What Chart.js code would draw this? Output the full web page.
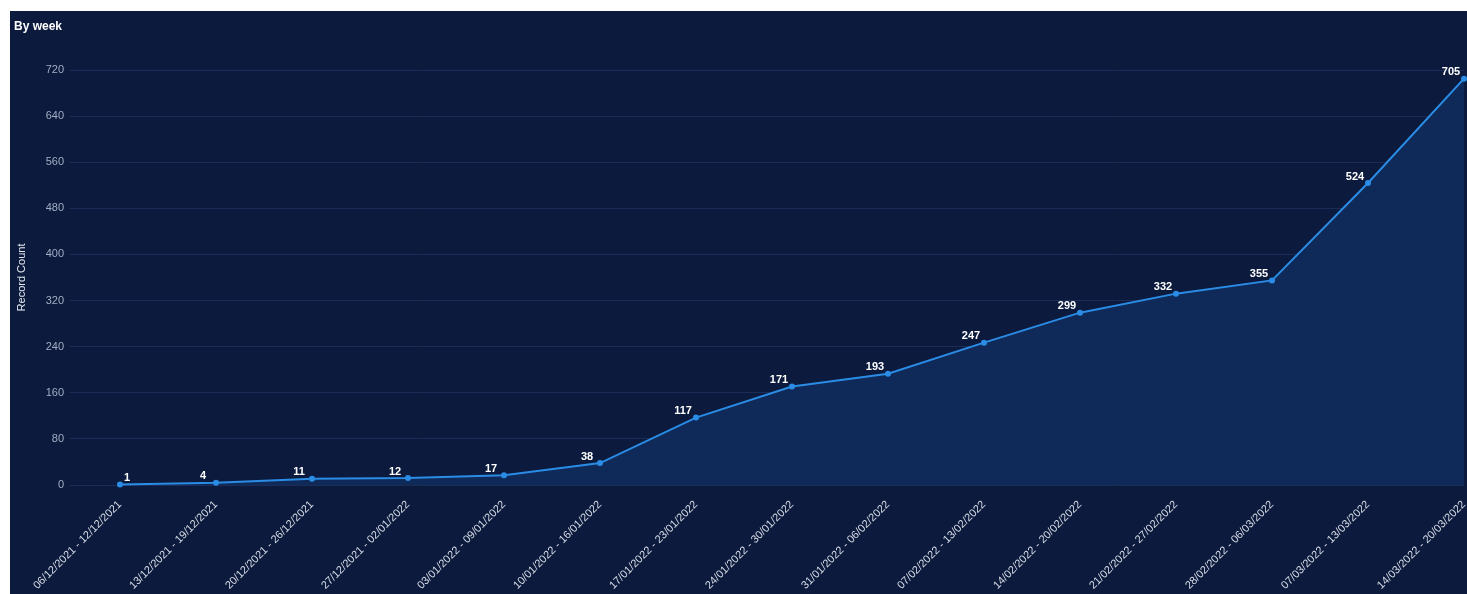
<!DOCTYPE html>
<html>
<head>
<meta charset="utf-8">
<script src="https://cdn.jsdelivr.net/npm/chart.js@4/dist/chart.umd.min.js"></script>
<style>
  html, body { margin: 0; padding: 0; background: #ffffff; overflow: hidden; }
  #panel { position: absolute; left: 10px; top: 11px; width: 1457px; height: 583px; background: #0b1a3d; }
  canvas { display: block; }
</style>
</head>
<body>
<div id="panel"><canvas id="c" width="1457" height="583"></canvas></div>
<script>
const chartTitle = 'By week';
const yAxisTitle = 'Record Count';
const weeks = [
  '06/12/2021 - 12/12/2021', '13/12/2021 - 19/12/2021', '20/12/2021 - 26/12/2021',
  '27/12/2021 - 02/01/2022', '03/01/2022 - 09/01/2022', '10/01/2022 - 16/01/2022',
  '17/01/2022 - 23/01/2022', '24/01/2022 - 30/01/2022', '31/01/2022 - 06/02/2022',
  '07/02/2022 - 13/02/2022', '14/02/2022 - 20/02/2022', '21/02/2022 - 27/02/2022',
  '28/02/2022 - 06/03/2022', '07/03/2022 - 13/03/2022', '14/03/2022 - 20/03/2022'
];
const recordCounts = [1, 4, 11, 12, 17, 38, 117, 171, 193, 247, 299, 332, 355, 524, 705];
const yTicks = [0, 80, 160, 240, 320, 400, 480, 560, 640, 720];

const FONT = '"Liberation Sans", Arial, sans-serif';

const overlay = {
  id: 'overlay',
  afterDatasetsDraw(chart) {
    const ctx = chart.ctx;
    ctx.save();
    ctx.fillStyle = '#ffffff';
    ctx.font = 'bold 11px ' + FONT;
    ctx.textAlign = 'center';
    ctx.textBaseline = 'bottom';
    const meta = chart.getDatasetMeta(0);
    meta.data.forEach((pt, i) => {
      const dx = i === 0 ? 7 : -13;
      ctx.fillText(String(recordCounts[i]), pt.x + dx, pt.y - 1);
    });
    ctx.font = 'bold 12px ' + FONT;
    ctx.textAlign = 'left';
    ctx.textBaseline = 'middle';
    ctx.fillText(chartTitle, 4, 16);
    ctx.restore();
  }
};

new Chart(document.getElementById('c'), {
  type: 'line',
  data: {
    datasets: [{
      data: recordCounts.map((v, i) => ({ x: i, y: v })),
      borderColor: '#2b8ce6',
      backgroundColor: '#2b8ce6',
      borderWidth: 2,
      pointRadius: 3,
      pointHoverRadius: 3,
      pointBackgroundColor: '#2b8ce6',
      pointBorderWidth: 0,
      tension: 0,
      clip: 4,
      fill: { target: 'origin', above: '#0f2a58' }
    }]
  },
  options: {
    responsive: false,
    animation: false,
    events: [],
    layout: { padding: { top: 59, right: 3, left: 0, bottom: 0 } },
    plugins: { legend: { display: false }, tooltip: { enabled: false }, title: { display: false } },
    scales: {
      x: {
        type: 'linear',
        min: -0.521,
        max: weeks.length - 1,
        afterBuildTicks(scale) { scale.ticks = weeks.map((w, i) => ({ value: i })); },
        afterFit(scale) { scale.height = 109; scale.paddingLeft = 0; scale.paddingRight = 0; },
        grid: { display: false, drawTicks: false },
        border: { display: false },
        ticks: {
          minRotation: 45,
          maxRotation: 45,
          padding: 13,
          autoSkip: false,
          color: '#d8dde6',
          font: { family: FONT, size: 11 },
          callback: (v) => weeks[v] !== undefined ? weeks[v] : ''
        }
      },
      y: {
        min: 0,
        max: 720,
        afterBuildTicks(scale) { scale.ticks = yTicks.map(v => ({ value: v })); },
        afterFit(scale) { scale.width = 60; },
        grid: { color: '#1b2c56', lineWidth: 1, drawTicks: false },
        border: { display: false },
        ticks: {
          padding: 6,
          color: '#a3aec3',
          font: { family: FONT, size: 11 }
        },
        title: {
          display: true,
          text: yAxisTitle,
          color: '#e6eaf0',
          font: { family: FONT, size: 11 },
          padding: { top: 5, bottom: 0 }
        }
      }
    }
  },
  plugins: [overlay]
});
</script>
</body>
</html>
